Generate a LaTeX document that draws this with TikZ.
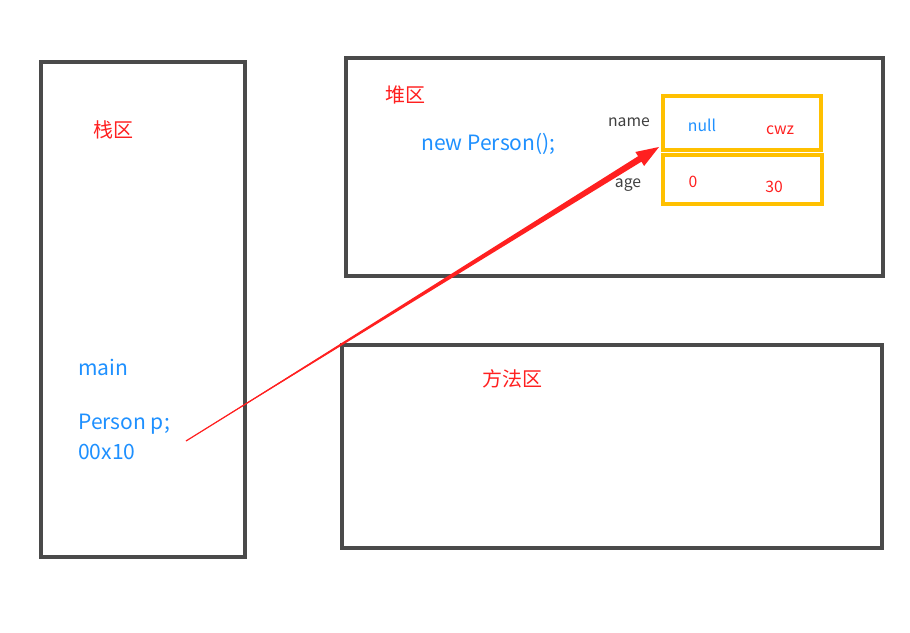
\documentclass[tikz,border=0pt]{standalone}
\usepackage{fontspec}
\setmainfont{Noto Sans CJK SC}
\usetikzlibrary{calc}
\definecolor{boxgray}{HTML}{4A4A4A}
\definecolor{fieldorange}{HTML}{FFC000}
\definecolor{codeblue}{HTML}{1E90FF}
\definecolor{areared}{HTML}{FF2020}
\definecolor{labelgray}{HTML}{404040}
\begin{document}
\begin{tikzpicture}[x=0.75pt, y=-0.75pt,
  area/.style={draw=boxgray, line width=2.5pt},
  field/.style={draw=fieldorange, line width=2.5pt},
  areatitle/.style={text=areared, font=\fontsize{15}{18}\selectfont},
  code/.style={text=codeblue, font=\fontsize{15.8}{19}\selectfont, inner sep=0pt},
  fname/.style={text=labelgray, font=\fontsize{11.8}{14}\selectfont},
  fval/.style={font=\fontsize{11.8}{14}\selectfont}]
\useasboundingbox (0,0) rectangle (910,632);
% memory areas
\draw[area] (41,62) rectangle (245,557);
\draw[area] (346,58) rectangle (883,276);
\draw[area] (342,345) rectangle (882,548);
\node[areatitle] (stack) at (113,130) {栈区};
\node[areatitle] (heap) at (405,95) {堆区};
\node[areatitle] (method) at (512,379) {方法区};
% stack frame
\node[code, anchor=west] (main) at (78,367) {main};
\node[code, anchor=west] (decl) at (78,424) {Person p;};
\node[code, anchor=west] (addr) at (78,452) {00x10};
% object in heap
\node[code, anchor=west] (newobj) at (421,144) {new Person();};
\draw[field] (663,96) rectangle (821,150);
\draw[field] (663,155) rectangle (822,204);
\node[fname] (name) at (629,122) {name};
\node[fname] (age) at (628,185) {age};
\node[fval, text=codeblue] (nullval) at (702,125) {null};
\node[fval, text=areared] (cwz) at (780,130) {cwz};
\node[fval, text=areared] (zero) at (693,182) {0};
\node[fval, text=areared] (thirty) at (774,187) {30};
% reference arrow
\coordinate (ptr) at (186,441);
\coordinate (tgt) at (659,147);
\coordinate (hb) at ($(tgt)!17pt!(ptr)$);
\fill[areared] (ptr) -- ($(hb)!2.4pt!90:(tgt)$) -- ($(hb)!6.2pt!90:(tgt)$) -- (tgt)
  -- ($(hb)!6.2pt!-90:(tgt)$) -- ($(hb)!2.4pt!-90:(tgt)$) -- cycle;
\draw[areared, line width=0.9pt] (ptr) -- (hb);
\end{tikzpicture}
\end{document}
